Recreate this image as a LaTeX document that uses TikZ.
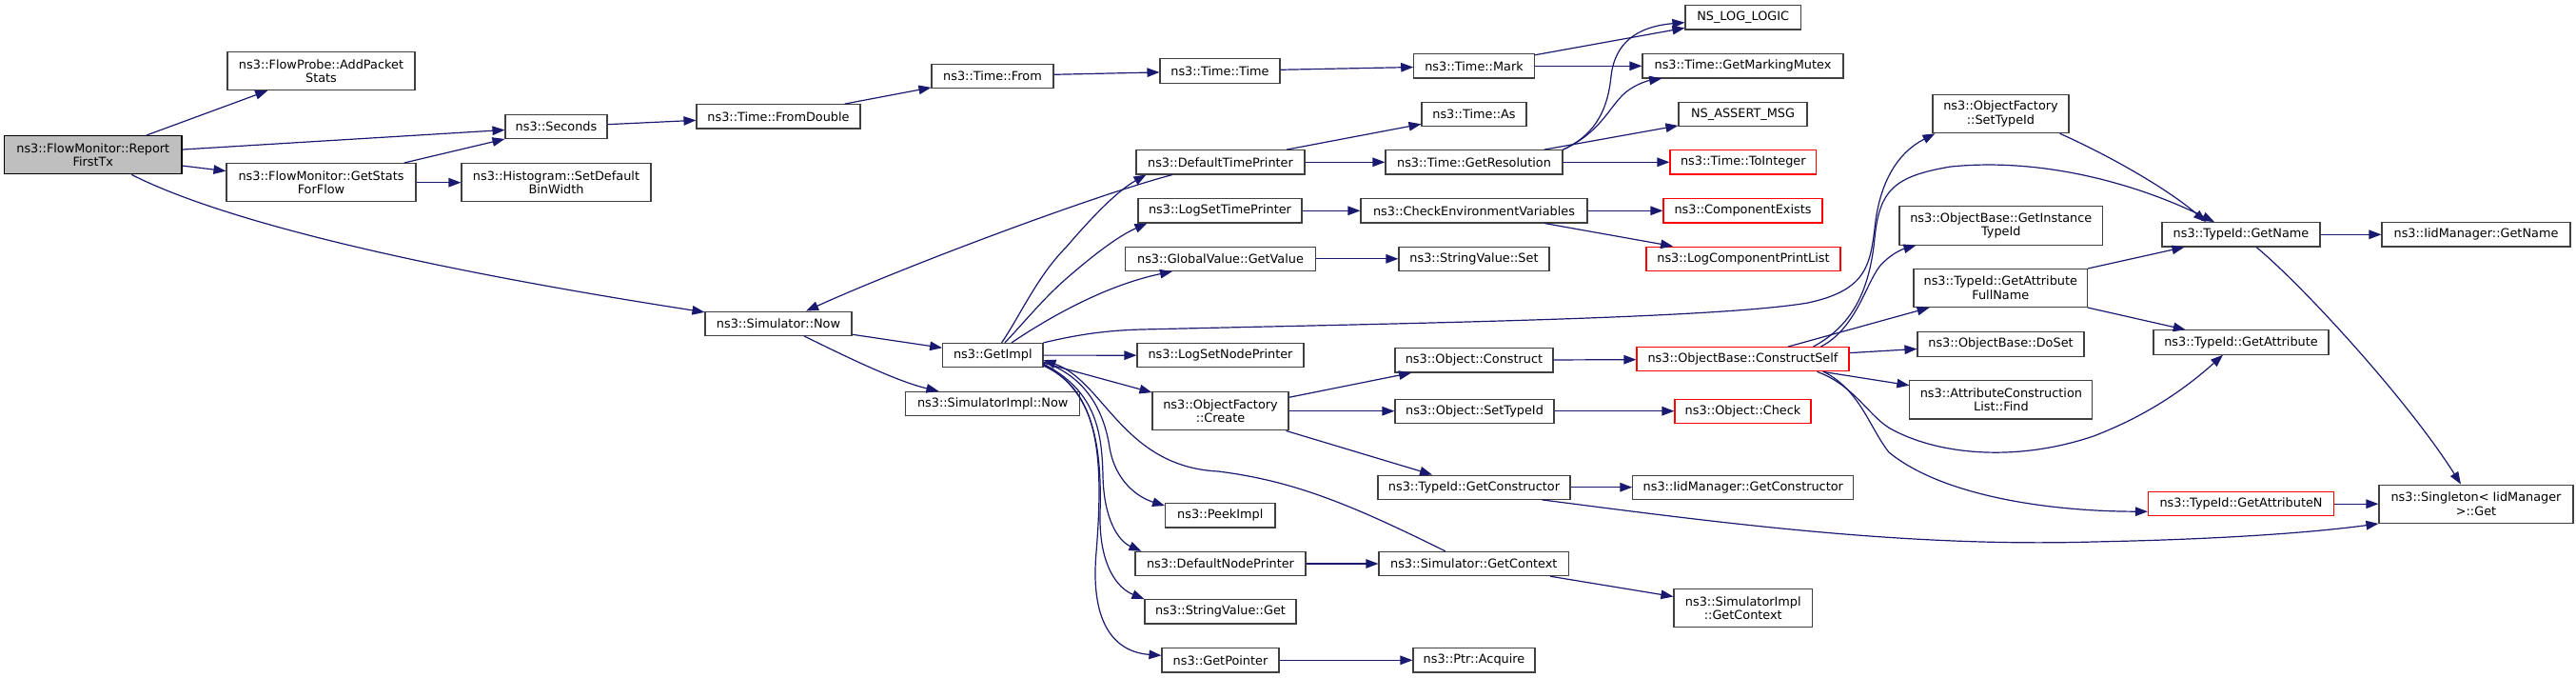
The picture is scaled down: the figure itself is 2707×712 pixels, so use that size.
\documentclass[tikz,border=0pt]{standalone}
\usepackage{fontspec}
\setmainfont{DejaVu Sans}
\usetikzlibrary{arrows.meta}
\definecolor{edgec}{HTML}{191970}
\definecolor{boxc}{HTML}{404040}
\definecolor{rootfill}{HTML}{BFBFBF}
\definecolor{redc}{HTML}{FF0000}
\begin{document}
\begin{tikzpicture}[x=1pt,y=-1pt,font=\fontsize{12.85}{14.3}\selectfont]
\tikzset{
 box/.style={draw=boxc, line width=1.1pt, fill=white, inner sep=0pt, align=center, minimum height=25.3pt},
 box2/.style={box, minimum height=40.3pt},
 redbox/.style={box, draw=redc},
 rootbox/.style={box2, fill=rootfill, draw=black},
 e/.style={draw=edgec, line width=1.2pt, -{Triangle[length=13pt,width=9.5pt]}},
}
\useasboundingbox (0,0) rectangle (2707,712);
% nodes
\node[rootbox, minimum width=186.4pt] (root) at (97.8,162.7) {ns3::FlowMonitor::Report\\FirstTx};
\node[box2, minimum width=197pt] (addp) at (337.5,74.5) {ns3::FlowProbe::AddPacket\\Stats};
\node[box2, minimum width=199pt] (gsff) at (337.5,191.7) {ns3::FlowMonitor::GetStats\\ForFlow};
\node[box, minimum width=107pt] (secs) at (584.5,133.2) {ns3::Seconds};
\node[box2, minimum width=199pt] (hist) at (584.5,191.7) {ns3::Histogram::SetDefault\\BinWidth};
\node[box, minimum width=172pt] (fromd) at (818,122.3) {ns3::Time::FromDouble};
\node[box, minimum width=128pt] (tfrom) at (1043,79.7) {ns3::Time::From};
\node[box, minimum width=154pt] (simnow) at (818,339.8) {ns3::Simulator::Now};
\node[box, minimum width=126pt] (ttime) at (1282,74.5) {ns3::Time::Time};
\node[box, minimum width=126.5pt] (mark) at (1549,69.3) {ns3::Time::Mark};
\node[box, minimum width=110pt] (tas) at (1549,119.8) {ns3::Time::As};
\node[box, minimum width=177pt] (dtp) at (1282.5,170.3) {ns3::DefaultTimePrinter};
\node[box, minimum width=186pt] (gres) at (1549,170.3) {ns3::Time::GetResolution};
\node[box, minimum width=172pt] (lstp) at (1282,221.3) {ns3::LogSetTimePrinter};
\node[box, minimum width=238pt] (cev) at (1549,221.3) {ns3::CheckEnvironmentVariables};
\node[box, minimum width=200pt] (gv) at (1282.5,271.8) {ns3::GlobalValue::GetValue};
\node[box, minimum width=158pt] (svs) at (1549,271.8) {ns3::StringValue::Set};
\node[box, minimum width=121.5pt] (nslog) at (1831.7,18.3) {NS\_LOG\_LOGIC};
\node[box, minimum width=211pt] (gmm) at (1831.5,69.3) {ns3::Time::GetMarkingMutex};
\node[box, minimum width=135pt] (nsassert) at (1831.5,119.8) {NS\_ASSERT\_MSG};
\node[redbox, minimum width=153.6pt] (toint) at (1831.8,170.3) {ns3::Time::ToInteger};
\node[redbox, minimum width=167pt] (cexists) at (1831.5,221.3) {ns3::ComponentExists};
\node[redbox, minimum width=204pt] (lcpl) at (1832,271.8) {ns3::LogComponentPrintList};
\node[box2, minimum width=143pt] (ofsti) at (2102.5,119.5) {ns3::ObjectFactory\\::SetTypeId};
\node[box2, minimum width=213.6pt] (gitid) at (2102.8,237) {ns3::ObjectBase::GetInstance\\TypeId};
\node[box2, minimum width=182.6pt] (gafn) at (2102.3,302.3) {ns3::TypeId::GetAttribute\\FullName};
\node[box, minimum width=175pt, minimum height=26pt] (doset) at (2102.5,361.3) {ns3::ObjectBase::DoSet};
\node[box2, minimum width=192pt] (acl) at (2102.9,419.8) {ns3::AttributeConstruction\\List::Find};
\node[box, minimum width=166pt] (tgn) at (2355,246.3) {ns3::TypeId::GetName};
\node[box, minimum width=198pt] (iigm) at (2602,246.3) {ns3::IidManager::GetName};
\node[box, minimum width=184pt] (tga) at (2355,359.5) {ns3::TypeId::GetAttribute};
\node[box, minimum width=105.3pt] (getimpl) at (1043.3,373.1) {ns3::GetImpl};
\node[box, minimum width=182.8pt] (simimplnow) at (1043.2,424) {ns3::SimulatorImpl::Now};
\node[box, minimum width=175pt] (lsnp) at (1282.5,373.2) {ns3::LogSetNodePrinter};
\node[box2, minimum width=143pt] (ofc) at (1282.5,431.7) {ns3::ObjectFactory\\::Create};
\node[box, minimum width=166pt] (oconst) at (1549,378.3) {ns3::Object::Construct};
\node[box, minimum width=167pt] (osti) at (1549.5,431.7) {ns3::Object::SetTypeId};
\node[box, minimum width=202pt] (tgc) at (1549,511.7) {ns3::TypeId::GetConstructor};
\node[box, minimum width=115.4pt] (peek) at (1282.3,541.3) {ns3::PeekImpl};
\node[box, minimum width=179pt] (dnp) at (1282.5,592) {ns3::DefaultNodePrinter};
\node[box, minimum width=199.6pt] (sgc) at (1548.8,592) {ns3::Simulator::GetContext};
\node[box, minimum width=159pt] (svg) at (1282.5,642.3) {ns3::StringValue::Get};
\node[box, minimum width=123pt] (gptr) at (1282.5,693.3) {ns3::GetPointer};
\node[box, minimum width=128pt] (pacq) at (1549,693.3) {ns3::Ptr::Acquire};
\node[redbox, minimum width=223pt] (cself) at (1831.5,377.2) {ns3::ObjectBase::ConstructSelf};
\node[redbox, minimum width=143pt] (ocheck) at (1831.5,431.7) {ns3::Object::Check};
\node[box, minimum width=232pt] (iigc) at (1831.8,511.7) {ns3::IidManager::GetConstructor};
\node[box2, minimum width=145.6pt] (sigc) at (1831.8,638.5) {ns3::SimulatorImpl\\::GetContext};
\node[redbox, minimum width=195pt] (gan) at (2355,529.2) {ns3::TypeId::GetAttributeN};
\node[box2, minimum width=204pt] (single) at (2602,529.2) {ns3::Singleton< IidManager\\ >::Get};
% edges
\draw[e] (root) -- (addp);
\draw[e] (root) -- (secs);
\draw[e] (root) -- (gsff);
\draw[e] (root) .. controls (220,225) and (400,275) .. (simnow);
\draw[e] (gsff) -- (secs);
\draw[e] (gsff) -- (hist);
\draw[e] (secs) -- (fromd);
\draw[e] (fromd) -- (tfrom);
\draw[e] (tfrom) -- (ttime);
\draw[e] (ttime) -- (mark);
\draw[e] (mark) -- (nslog);
\draw[e] (mark) -- (gmm);
\draw[e] (gres.north east) .. controls (1680,140) and (1690,110) .. (1693,80) .. controls (1697,45) and (1720,28) .. (nslog);
\draw[e] (gres.north east) .. controls (1680,140) and (1690,115) .. (1705,100) .. controls (1715,90) and (1730,85) .. (gmm);
\draw[e] (gres) -- (nsassert);
\draw[e] (gres) -- (toint);
\draw[e] (dtp) -- (tas);
\draw[e] (dtp) -- (gres);
\draw[e] (dtp) .. controls (1150,205) and (950,280) .. (simnow);
\draw[e] (lstp) -- (cev);
\draw[e] (cev) -- (cexists);
\draw[e] (cev) -- (lcpl);
\draw[e] (gv) -- (svs);
\draw[e] (simnow) -- (getimpl);
\draw[e] (simnow) .. controls (880,370) and (940,400) .. (simimplnow);
\draw[e] (getimpl) .. controls (1070,335) and (1090,290) .. (1120,260) .. controls (1150,225) and (1175,200) .. ([xshift=11pt]dtp.south west);
\draw[e] (getimpl) .. controls (1075,340) and (1095,315) .. (1120,293) .. controls (1150,267) and (1175,248) .. ([xshift=10pt]lstp.south west);
\draw[e] (getimpl) .. controls (1100,335) and (1160,300) .. ([xshift=50pt]gv.south west);
\draw[e] (getimpl.north east) .. controls (1130,352) and (1160,347) .. (1200,346) .. controls (1450,340) and (1800,335) .. (1900,318) .. controls (1960,305) and (1965,280) .. (1970,240) .. controls (1975,190) and (1995,160) .. ([xshift=3pt]ofsti.south west);
\draw[e] (getimpl) -- (lsnp);
\draw[e] ([yshift=-8pt]getimpl.east) -- (ofc);
\draw[e] ([yshift=-7pt]getimpl.east) .. controls (1140,395) and (1160,430) .. (1166,470) .. controls (1172,505) and (1195,522) .. ([yshift=-3pt]peek.north west);
\draw[e] ([yshift=-9pt]getimpl.east) .. controls (1150,410) and (1158,450) .. (1159,500) .. controls (1160,545) and (1175,568) .. ([xshift=7pt]dnp.north west);
\draw[e] ([yshift=-10pt]getimpl.east) .. controls (1150,410) and (1158,470) .. (1156,540) .. controls (1155,595) and (1175,618) .. (svg.north west);
\draw[e] ([yshift=-11pt]getimpl.east) .. controls (1155,410) and (1160,480) .. (1152,580) .. controls (1145,660) and (1175,685) .. ([yshift=5pt]gptr.west);
\draw[e] ([xshift=-30pt]sgc.north) .. controls (1420,530) and (1360,505) .. (1280,495) .. controls (1180,490) and (1160,400) .. ([yshift=-5pt]getimpl.east);
\draw[e] (ofc) -- (oconst);
\draw[e] (ofc) -- (osti);
\draw[e] (ofc) -- (tgc);
\draw[e] (oconst) -- (cself);
\draw[e] (osti) -- (ocheck);
\draw[e] (tgc) -- (iigc);
\draw[e] ([xshift=-30pt]tgc.south east) .. controls (1800,548) and (2000,575) .. (2200,569) .. controls (2350,566) and (2440,558) .. (single.south west);
\draw[e] (dnp) -- (sgc);
\draw[e] (sgc) -- (sigc);
\draw[e] (gptr) -- (pacq);
\draw[e] ([xshift=-38pt]cself.north east) .. controls (1950,340) and (1965,300) .. (1970,250) .. controls (1975,200) and (1990,185) .. (2050,175) .. controls (2150,165) and (2250,195) .. ([xshift=-28pt]tgn.north);
\draw[e] ([xshift=-30pt]cself.north east) .. controls (1950,345) and (1960,300) .. (1975,280) .. controls (1985,268) and (1998,262) .. ([xshift=18pt]gitid.south west);
\draw[e] (cself) -- (gafn);
\draw[e] (cself) -- (doset);
\draw[e] (cself) -- (acl);
\draw[e] ([xshift=-34pt]cself.south east) .. controls (1950,405) and (1965,440) .. (1990,452) .. controls (2040,478) and (2120,485) .. (2200,458) .. controls (2260,435) and (2300,405) .. ([xshift=-19pt]tga.south);
\draw[e] ([xshift=-27pt]cself.south east) .. controls (1955,410) and (1965,450) .. (1985,475) .. controls (2040,520) and (2150,537) .. ([yshift=-8pt]gan.west);
\draw[e] (gafn) -- (tgn);
\draw[e] (gafn) -- (tga);
\draw[e] ([xshift=-10pt]ofsti.south east) .. controls (2220,165) and (2280,200) .. ([xshift=-37pt]tgn.north);
\draw[e] (tgn) -- (iigm);
\draw[e] ([xshift=16pt]tgn.south) .. controls (2420,300) and (2530,420) .. ([xshift=-16pt]single.north);
\draw[e] (gan) -- (single);
\end{tikzpicture}
\end{document}
